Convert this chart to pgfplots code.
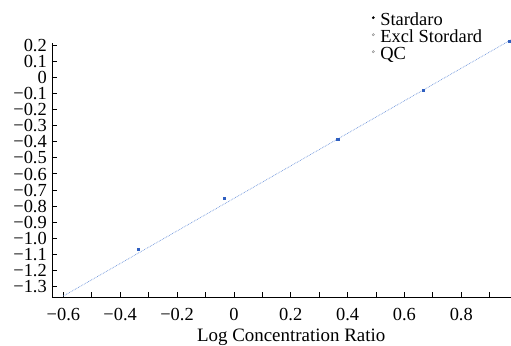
\documentclass[border=0pt]{standalone}
\usepackage{fontspec}
\setmainfont{Liberation Serif}
\usepackage{pgfplots}
\pgfplotsset{compat=1.18}
\definecolor{ptblue}{HTML}{2F5FC0}
\definecolor{lnblue}{HTML}{6A92DA}
\begin{document}
\begin{tikzpicture}
\begin{axis}[
  at={(0,0)}, anchor=south west,
  scale only axis, width=459bp, height=254bp,
  xmin=-0.64, xmax=0.975, ymin=-1.365, ymax=0.212,
  axis x line=bottom, axis y line=left,
  axis line style={-, line width=0.8pt},
  xtick={-0.6,-0.4,...,0.8}, minor xtick={-0.5,-0.3,...,0.9},
  ytick={-1.3,-1.2,...,0.2},
  yticklabels={−1.3,−1.2,−1.1,−1.0,−0.9,−0.8,−0.7,−0.6,−0.5,−0.4,−0.3,−0.2,−0.1,0,0.1,0.2},
  xticklabels={−0.6,−0.4,−0.2,0,0.2,0.4,0.6,0.8},
  tick align=inside, major tick length=5bp, minor tick length=5bp,
  tick style={black, line width=0.7pt},
  tick label style={font=\fontsize{18.5}{18.5}\selectfont},
  yticklabel style={anchor=east, inner sep=0pt, xshift=-5bp, text height=12.5bp, text depth=0bp},
  xticklabel style={anchor=base, inner sep=0pt, yshift=-23bp},
  xlabel={Log Concentration Ratio},
  xlabel style={font=\fontsize{19}{19}\selectfont, at={(axis description cs:0.521,0)}, anchor=base, inner sep=0pt, yshift=-44bp},
  legend style={draw=none, fill=none, at={(rel axis cs:0.693,1.122)}, anchor=north west,
    font=\fontsize{18.5}{18.5}\selectfont, row sep=0pt, inner sep=0pt,
    nodes={inner sep=1bp, text height=12bp, text depth=3bp},
    legend cell align=left},
  legend image code/.code={\path[draw=none, fill=none] (0bp,0bp) -- (9bp,0bp); \draw[#1] (3bp,3bp) circle (1.2bp);},
  clip=false,
]
\addlegendimage{black, fill=black}
\addlegendentry{Stardaro}
\addlegendimage{gray, line width=0.4pt}
\addlegendentry{Excl Stordard}
\addlegendimage{gray, line width=0.4pt}
\addlegendentry{QC}
\addplot[lnblue, densely dotted, line width=0.7pt, forget plot] coordinates {(-0.6,-1.359) (0.975,0.232)};
\addplot[only marks, mark=square*, mark size=1.2bp, ptblue, forget plot] coordinates {
(-0.337,-1.069) (-0.035,-0.752) (0.365,-0.386) (0.667,-0.080) (0.968,0.225)};
\end{axis}
\pgfresetboundingbox
\path[use as bounding box] (-52bp,-49bp) rectangle (459bp,297bp);
\end{tikzpicture}
\end{document}
